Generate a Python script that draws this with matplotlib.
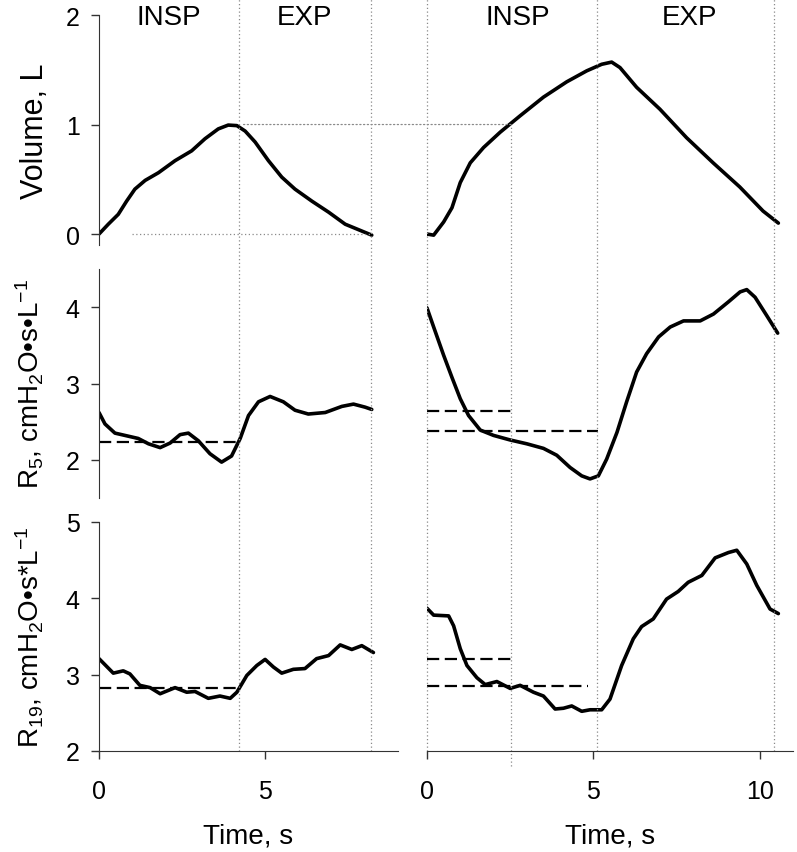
import numpy as np
import matplotlib
matplotlib.use("Agg")
import matplotlib.pyplot as plt
from matplotlib import transforms
from matplotlib.patches import ConnectionPatch

# ---- data ----
# left: normal breath
t_vol_l = [0, 0.28, 0.58, 0.83, 1.08, 1.39, 1.79, 2.29, 2.79, 3.19, 3.59, 3.89, 4.15, 4.40, 4.70, 5.10,
           5.50, 5.90, 6.41, 6.91, 7.41, 7.81, 8.21]
vol_l = [0, 0.09, 0.18, 0.30, 0.41, 0.49, 0.56, 0.67, 0.76, 0.87, 0.96, 0.995, 0.99, 0.94, 0.84, 0.67,
         0.52, 0.41, 0.30, 0.20, 0.09, 0.04, -0.01]

t_r5_l = [0, 0.18, 0.48, 0.88, 1.18, 1.49, 1.84, 2.14, 2.44, 2.69, 2.99, 3.34, 3.69, 3.99, 4.25, 4.50,
          4.80, 5.15, 5.55, 5.90, 6.30, 6.81, 7.31, 7.66, 8.01, 8.21]
r5_l = [2.62, 2.47, 2.35, 2.31, 2.28, 2.21, 2.16, 2.22, 2.33, 2.35, 2.25, 2.08, 1.97, 2.05, 2.28, 2.58,
        2.76, 2.83, 2.76, 2.65, 2.60, 2.62, 2.70, 2.73, 2.69, 2.66]

t_r19_l = [0, 0.43, 0.73, 0.93, 1.23, 1.54, 1.84, 2.29, 2.64, 2.89, 3.29, 3.64, 3.95, 4.15, 4.45, 4.75, 5.0,
           5.25, 5.5, 5.85, 6.2, 6.55, 6.91, 7.26, 7.61, 7.91, 8.26]
r19_l = [3.21, 3.02, 3.05, 3.01, 2.86, 2.83, 2.75, 2.83, 2.77, 2.78, 2.69, 2.72, 2.69, 2.77, 2.99, 3.12, 3.20,
         3.10, 3.02, 3.07, 3.08, 3.21, 3.25, 3.39, 3.33, 3.38, 3.29]

# right: slow deep breath
t_vol_r = [0, 0.2, 0.5, 0.75, 1.0, 1.3, 1.7, 2.2, 2.8, 3.5, 4.2, 4.8, 5.25, 5.55, 5.8, 6.3, 7.0, 7.8,
           8.6, 9.4, 10.1, 10.56]
vol_r = [0, -0.01, 0.11, 0.24, 0.47, 0.65, 0.79, 0.93, 1.08, 1.25, 1.39, 1.49, 1.55, 1.57, 1.52, 1.34, 1.14, 0.88,
         0.65, 0.43, 0.21, 0.10]

t_r5_r = [0, 0.2, 0.5, 0.75, 1.0, 1.25, 1.6, 2.0, 2.5, 3.0, 3.5, 3.9, 4.3, 4.65, 4.9, 5.15, 5.4, 5.71, 6.0,
          6.3, 6.6, 6.96, 7.31, 7.71, 8.21, 8.61, 9.06, 9.41, 9.61, 9.86, 10.21, 10.54]
r5_r = [3.99, 3.74, 3.37, 3.08, 2.80, 2.58, 2.39, 2.32, 2.26, 2.21, 2.15, 2.06, 1.90, 1.79, 1.75, 1.79, 2.01, 2.36, 2.76,
        3.15, 3.39, 3.61, 3.74, 3.82, 3.82, 3.91, 4.07, 4.20, 4.23, 4.13, 3.89, 3.66]

t_r19_r = [0, 0.2, 0.65, 0.8, 1.0, 1.2, 1.5, 1.75, 2.1, 2.5, 2.8, 3.2, 3.5, 3.85, 4.1, 4.35, 4.65, 4.9, 5.25,
           5.5, 5.85, 6.2, 6.45, 6.8, 7.2, 7.55, 7.85, 8.26, 8.66, 9.06, 9.31, 9.61, 9.91, 10.31, 10.56]
r19_r = [3.87, 3.78, 3.77, 3.64, 3.34, 3.12, 2.96, 2.87, 2.91, 2.82, 2.86, 2.77, 2.72, 2.55, 2.56, 2.59, 2.52, 2.54, 2.54,
         2.68, 3.12, 3.47, 3.63, 3.73, 3.99, 4.09, 4.21, 4.30, 4.53, 4.60, 4.63, 4.45, 4.17, 3.86, 3.80]

# phase boundaries (s)
phase_l = [4.2, 8.2]
phase_r = [0, 5.1, 10.43]
half_insp_r = 2.53

# mean levels: (level, x end)
mean_r5_l = [(2.23, 4.2)]
mean_r19_l = [(2.82, 4.2)]
mean_r5_r = [(2.64, 2.58), (2.38, 5.15)]
mean_r19_r = [(3.20, 2.53), (2.85, 4.85)]

# ---- fonts ----
plt.rcParams['font.family'] = ['Liberation Sans', 'DejaVu Sans']
plt.rcParams['mathtext.fontset'] = 'custom'
plt.rcParams['mathtext.rm'] = 'Liberation Sans'
plt.rcParams['mathtext.it'] = 'Liberation Sans:italic'
plt.rcParams['mathtext.bf'] = 'Liberation Sans:bold'

fig = plt.figure(figsize=(7.97, 8.53), dpi=100)
W, H = 797, 853

def px_axes(x0, x1, y0, y1):
    return fig.add_axes([x0 / W, 1 - y1 / H, (x1 - x0) / W, (y1 - y0) / H])

rows = [(16, 246), (270, 499), (523, 752)]
ax_l = [px_axes(99, 398, a, b) for a, b in rows]
ax_r = [px_axes(427, 793, a, b) for a, b in rows]

spine_c = '#333333'
dot_c = '#8a8a8a'
for ax in ax_l + ax_r:
    ax.patch.set_alpha(0)
    for s in ['top', 'right']:
        ax.spines[s].set_visible(False)
    ax.spines['left'].set_color(spine_c)
    ax.spines['bottom'].set_color(spine_c)
    ax.tick_params(colors='black', labelsize=18, length=6, width=1, color=spine_c)
    ax.tick_params(axis='y', pad=8)
    ax.tick_params(axis='x', pad=14)

for ax in ax_l[:2] + ax_r[:2]:
    ax.spines['bottom'].set_visible(False)
    ax.set_xticks([])
for ax in ax_r:
    ax.spines['left'].set_visible(False)
    ax.set_yticks([])

for ax in ax_l:
    ax.set_xlim(0, 9.0)
for ax in ax_r:
    ax.set_xlim(0, 11.0)

ax_l[0].set_ylim(-0.1, 2.0)
ax_r[0].set_ylim(-0.1, 2.0)
ax_l[0].set_yticks([0, 1, 2])
ax_l[1].set_ylim(1.5, 4.5)
ax_r[1].set_ylim(1.5, 4.5)
ax_l[1].set_yticks([2, 3, 4])
ax_l[2].set_ylim(2, 5)
ax_r[2].set_ylim(2, 5)
ax_l[2].set_yticks([2, 3, 4, 5])
ax_l[2].set_xticks([0, 5])
ax_r[2].set_xticks([0, 5, 10])

lw = 2.6
curve = dict(color='black', lw=lw, solid_joinstyle='round', solid_capstyle='round')
ax_l[0].plot(t_vol_l, vol_l, **curve)
ax_l[1].plot(t_r5_l, r5_l, **curve)
ax_l[2].plot(t_r19_l, r19_l, **curve)
ax_r[0].plot(t_vol_r, vol_r, **curve)
ax_r[1].plot(t_r5_r, r5_r, **curve)
ax_r[2].plot(t_r19_r, r19_r, **curve)

for ax, means in [(ax_l[1], mean_r5_l), (ax_l[2], mean_r19_l), (ax_r[1], mean_r5_r), (ax_r[2], mean_r19_r)]:
    for lev, xe in means:
        ax.plot([0, xe], [lev, lev], color='black', lw=1.6, dashes=(5.5, 2.5))

# vertical phase lines spanning all three rows
dot_style = dict(color=dot_c, lw=0.9, linestyle=(0, (1, 2)))
bot = 1 - 752 / H
for ax, xs in [(ax_l[2], phase_l), (ax_r[2], phase_r)]:
    tr = transforms.blended_transform_factory(ax.transData, fig.transFigure)
    for x in xs:
        ax.plot([x, x], [bot, 1.0], transform=tr, clip_on=False, **dot_style)
tr = transforms.blended_transform_factory(ax_r[2].transData, fig.transFigure)
ax_r[2].plot([half_insp_r, half_insp_r], [1 - 767 / H, 1 - 127 / H], transform=tr, clip_on=False, **dot_style)

# horizontal reference lines in volume panel
ax_l[0].plot([1.0, phase_l[1]], [0, 0], **dot_style)
con = ConnectionPatch(xyA=(4.35, 1.0), coordsA=ax_l[0].transData,
                      xyB=(half_insp_r, 1.0), coordsB=ax_r[0].transData, **dot_style)
fig.add_artist(con)

# phase labels
tr_top = transforms.blended_transform_factory(ax_l[0].transData, fig.transFigure)
ax_l[0].text(2.1, 1 - 18 / H, 'INSP', transform=tr_top, ha='center', va='center', fontsize=20)
ax_l[0].text(6.2, 1 - 18 / H, 'EXP', transform=tr_top, ha='center', va='center', fontsize=20)
tr_top = transforms.blended_transform_factory(ax_r[0].transData, fig.transFigure)
ax_r[0].text(2.73, 1 - 18 / H, 'INSP', transform=tr_top, ha='center', va='center', fontsize=20)
ax_r[0].text(7.9, 1 - 18 / H, 'EXP', transform=tr_top, ha='center', va='center', fontsize=20)

ylabels = ['Volume, L', r'R$_{5}$, cmH$_{2}$O•s•L$^{-1}$', r'R$_{19}$, cmH$_{2}$O•s*L$^{-1}$']
lab_sizes = [22, 20, 20]
lab_x = [-0.165, -0.178, -0.178]
for ax, lab, fs, lx in zip(ax_l, ylabels, lab_sizes, lab_x):
    ax.set_ylabel(lab, fontsize=fs)
    ax.yaxis.set_label_coords(lx, 0.5)

for ax in [ax_l[2], ax_r[2]]:
    ax.set_xlabel('Time, s', fontsize=20, labelpad=14)

fig.savefig('out.png', dpi=100)
